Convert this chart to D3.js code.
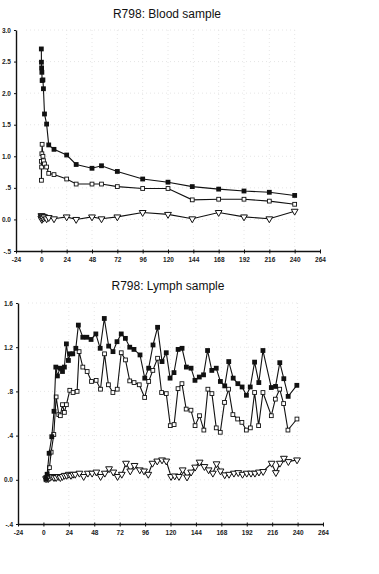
<!DOCTYPE html>
<html>
<head>
<meta charset="utf-8">
<script src="https://cdn.jsdelivr.net/npm/d3@7"></script>
<style>
  html, body { margin: 0; padding: 0; background: #fff; }
  svg { display: block; }
  .title { font-family: "Liberation Sans", Arial, sans-serif; font-size: 12px; fill: #111; }
  .tick text { font-family: "Liberation Sans", Arial, sans-serif; font-size: 6.5px; font-weight: bold; fill: #222; }
</style>
</head>
<body>
<svg id="chart" width="379" height="574"></svg>
<script>
// ---------- shared ticks ----------
const xTicks = [-24, 0, 24, 48, 72, 96, 120, 144, 168, 192, 216, 240, 264];

// ---------- Blood sample ----------
const bloodYTicks = [3.0, 2.5, 2.0, 1.5, 1.0, 0.5, 0.0, -0.5];
const bloodYLabels = ["3.0", "2.5", "2.0", "1.5", "1.0", ".5", "0.0", "-.5"];
const bloodTimes = [0, 0.1, 0.25, 0.5, 0.75, 1.5, 2, 3, 5, 7, 12, 24, 33, 48, 57, 72, 96, 120, 143, 168, 192, 216, 240];
const bloodFilled = [2.70, 2.49, 2.40, 2.33, 2.20, 2.21, 2.07, 1.67, 1.51, 1.18, 1.11, 1.02, 0.87, 0.81, 0.85, 0.76, 0.64, 0.59, 0.52, 0.48, 0.45, 0.43, 0.38];
const bloodOpen = [0.92, 0.62, 0.83, 1.04, 1.19, 1.00, 0.93, 0.88, 0.83, 0.73, 0.71, 0.64, 0.56, 0.56, 0.56, 0.52, 0.49, 0.49, 0.31, 0.32, 0.32, 0.29, 0.24];
const bloodTri = [0.02, 0.06, 0.05, 0.00, 0.03, 0.05, 0.02, 0.04, 0.01, 0.03, 0.01, 0.04, 0.00, 0.04, 0.01, 0.04, 0.11, 0.08, 0.01, 0.11, 0.04, 0.01, 0.13];

// ---------- Lymph sample ----------
const lymphYTicks = [1.6, 1.2, 0.8, 0.4, 0.0, -0.4];
const lymphYLabels = ["1.6", "1.2", ".8", ".4", "0.0", "-.4"];
const lymphFilledTimes = [2.5, 3.5, 5.4, 7.9, 10, 11.7, 13.2, 15.7, 18, 19.8, 21.7, 23.6, 25.2, 27.7, 30.6, 33, 37.2, 41, 45, 49.5, 53.6, 57.5, 61.6, 65.7, 69.5, 73.5, 77.4, 81.5, 85.5, 91.2, 95.7, 99.4, 103.5, 107.8, 112, 116, 119.6, 123.3, 127.2, 130.9, 135, 139.4, 143.1, 147.2, 151.2, 155, 159, 163.2, 167.1, 171.2, 175, 179.2, 183.6, 187.6, 191.7, 195.3, 199.4, 203.4, 207.3, 215.2, 219.2, 223.2, 227, 231.1, 239.3];
const lymphFilled = [0.01, 0.05, 0.24, 0.39, 0.62, 1.02, 0.94, 1.01, 0.98, 1.02, 1.23, 1.08, 1.14, 1.14, 1.19, 1.40, 1.29, 1.29, 1.27, 1.32, 1.19, 1.46, 1.21, 1.16, 1.25, 1.32, 1.28, 1.20, 1.18, 1.13, 0.92, 1.01, 1.22, 1.38, 1.07, 1.15, 0.92, 0.97, 1.18, 1.19, 1.02, 1.01, 0.90, 0.93, 0.95, 1.17, 0.99, 1.01, 0.89, 0.85, 1.07, 0.92, 0.87, 0.84, 0.765, 0.84, 1.065, 0.88, 1.17, 0.835, 0.845, 1.06, 0.915, 0.755, 0.855];
const lymphOpenTimes = [2.5, 4, 5.7, 7.3, 9.8, 12, 14.5, 16, 18, 19.8, 21.7, 24.9, 28, 31.8, 33.7, 37.2, 41.3, 45.4, 49.8, 53.9, 57.7, 61.4, 65.6, 69.7, 73.5, 77.5, 81.5, 85.6, 90.5, 95.6, 99.4, 103.3, 107.8, 111.6, 116, 119.8, 123.4, 127.1, 130.8, 134.8, 139.3, 143.2, 147.4, 151.5, 155.3, 159.1, 163.2, 167, 171, 174.9, 178.9, 183.4, 187.4, 191.6, 195.4, 199.4, 203.2, 207.3, 215.2, 219, 223.1, 226.8, 230.9, 239.4];
const lymphOpen = [0.0, 0.03, 0.11, 0.25, 0.41, 0.75, 0.59, 0.58, 0.68, 0.61, 0.68, 0.81, 0.79, 0.80, 1.16, 1.02, 0.98, 0.89, 0.90, 0.82, 1.14, 0.86, 0.79, 0.82, 1.15, 1.085, 0.895, 0.88, 0.86, 0.745, 0.89, 0.99, 1.10, 0.79, 0.78, 0.49, 0.50, 0.825, 0.87, 0.64, 0.63, 0.49, 0.58, 0.45, 0.82, 0.78, 0.47, 0.43, 0.70, 0.82, 0.59, 0.55, 0.52, 0.45, 0.47, 0.79, 0.49, 0.79, 0.58, 0.73, 0.82, 0.69, 0.45, 0.55];
const lymphTriTimes = [2.5, 3.5, 4.5, 6, 8, 10, 12, 14, 16, 18, 20, 22, 24, 26, 28, 30, 34, 38, 42, 46, 50, 54, 58, 62, 66, 70, 74, 78, 82, 86, 91, 95, 99, 103, 107.5, 112, 116, 120.5, 124, 128, 131.5, 135.6, 139.5, 143.3, 147.5, 152, 156, 160, 163.5, 167.2, 171.2, 175.3, 179.9, 184, 188, 192, 196, 199.7, 203.5, 207.5, 215.5, 219.5, 223.3, 227.1, 231.3, 239.5];
const lymphTri = [0.01, 0.02, 0.01, 0.02, 0.03, 0.02, 0.02, 0.03, 0.02, 0.03, 0.04, 0.04, 0.05, 0.04, 0.05, 0.05, 0.06, 0.03, 0.06, 0.06, 0.07, 0.03, 0.06, 0.10, 0.07, 0.03, 0.05, 0.15, 0.08, 0.13, 0.09, 0.08, 0.05, 0.15, 0.17, 0.18, 0.17, 0.03, 0.035, 0.03, 0.09, 0.025, 0.07, 0.115, 0.16, 0.12, 0.09, 0.06, 0.145, 0.08, 0.045, 0.05, 0.06, 0.065, 0.05, 0.06, 0.06, 0.06, 0.07, 0.075, 0.15, 0.065, 0.15, 0.195, 0.165, 0.18];

const svg = d3.select("#chart");

function drawPanel(cfg) {
  const x = d3.scaleLinear().domain([-24, 264]).range([cfg.x0, cfg.x1]);
  const y = d3.scaleLinear().domain(cfg.yDomain).range([cfg.yBottom, cfg.yTop]);
  const g = svg.append("g");

  // title
  g.append("text").attr("class", "title")
    .attr("x", cfg.titleX).attr("y", cfg.titleY)
    .attr("text-anchor", "middle").text(cfg.title);

  // faint dotted grid
  const grid = g.append("g").attr("stroke", "#e0e0e0").attr("stroke-width", 0.8)
    .attr("stroke-dasharray", "1,3").attr("fill", "none");
  grid.selectAll("line.h").data(cfg.yTicks.slice(0, -1)).join("line").attr("class", "h")
    .attr("x1", cfg.x0 + 10).attr("x2", x(240))
    .attr("y1", d => y(d)).attr("y2", d => y(d));
  grid.selectAll("line.v").data(xTicks.slice(2, -1)).join("line").attr("class", "v")
    .attr("x1", d => x(d)).attr("x2", d => x(d))
    .attr("y1", cfg.yTop).attr("y2", cfg.yBottom - 4);

  // axes
  const xAxis = d3.axisBottom(x).tickValues(xTicks).tickFormat(d => String(d))
    .tickSizeInner(2.5).tickSizeOuter(0).tickPadding(4);
  const xa = g.append("g").attr("transform", `translate(0,${cfg.yBottom})`).call(xAxis);
  xa.select(".domain").attr("stroke", "#111").attr("stroke-width", 1.4);
  xa.selectAll(".tick line").attr("stroke", "#111").attr("stroke-width", 1).attr("y1", -1.5);

  const labelMap = new Map(cfg.yTicks.map((t, i) => [t, cfg.yLabels[i]]));
  const yAxis = d3.axisLeft(y).tickValues(cfg.yTicks).tickFormat(d => labelMap.get(d))
    .tickSizeInner(2).tickSizeOuter(0).tickPadding(cfg.yPad);
  const ya = g.append("g").attr("transform", `translate(${cfg.x0},0)`).call(yAxis);
  ya.select(".domain").attr("stroke", "#111").attr("stroke-width", 1.4);
  ya.selectAll(".tick line").attr("stroke", "#111").attr("stroke-width", 1);

  // series
  const line = d3.line().x(d => x(d[0])).y(d => y(d[1]));
  cfg.series.forEach(s => {
    const pts = s.t.map((t, i) => [t, s.v[i]]);
    g.append("path").datum(pts).attr("d", line)
      .attr("fill", "none").attr("stroke", "#111").attr("stroke-width", 1.1);
    const m = g.append("g");
    if (s.kind === "filled") {
      m.selectAll("rect").data(pts).join("rect")
        .attr("x", d => x(d[0]) - 2.4).attr("y", d => y(d[1]) - 2.4)
        .attr("width", 4.8).attr("height", 4.8).attr("fill", "#111");
    } else if (s.kind === "open") {
      m.selectAll("rect").data(pts).join("rect")
        .attr("x", d => x(d[0]) - 1.9).attr("y", d => y(d[1]) - 1.9)
        .attr("width", 3.8).attr("height", 3.8)
        .attr("fill", "#fff").attr("stroke", "#111").attr("stroke-width", 0.9);
    } else {
      const sym = d3.symbol().type(d3.symbolTriangle).size(20);
      m.selectAll("path").data(pts).join("path")
        .attr("d", sym)
        .attr("transform", d => `translate(${x(d[0])},${y(d[1])}) rotate(180)`)
        .attr("fill", "#fff").attr("stroke", "#111").attr("stroke-width", 1);
    }
  });
}

drawPanel({
  title: "R798: Blood sample", titleX: 167, titleY: 18,
  x0: 16, x1: 320, yTop: 30, yBottom: 251, yDomain: [-0.5, 3.0],
  yTicks: bloodYTicks, yLabels: bloodYLabels, yPad: 3,
  series: [
    { kind: "tri", t: bloodTimes, v: bloodTri },
    { kind: "open", t: bloodTimes, v: bloodOpen },
    { kind: "filled", t: bloodTimes, v: bloodFilled }
  ]
});

drawPanel({
  title: "R798: Lymph sample", titleX: 168, titleY: 290,
  x0: 18, x1: 323, yTop: 303, yBottom: 524, yDomain: [-0.4, 1.6],
  yTicks: lymphYTicks, yLabels: lymphYLabels, yPad: 3,
  series: [
    { kind: "tri", t: lymphTriTimes, v: lymphTri },
    { kind: "open", t: lymphOpenTimes, v: lymphOpen },
    { kind: "filled", t: lymphFilledTimes, v: lymphFilled }
  ]
});
</script>
</body>
</html>
